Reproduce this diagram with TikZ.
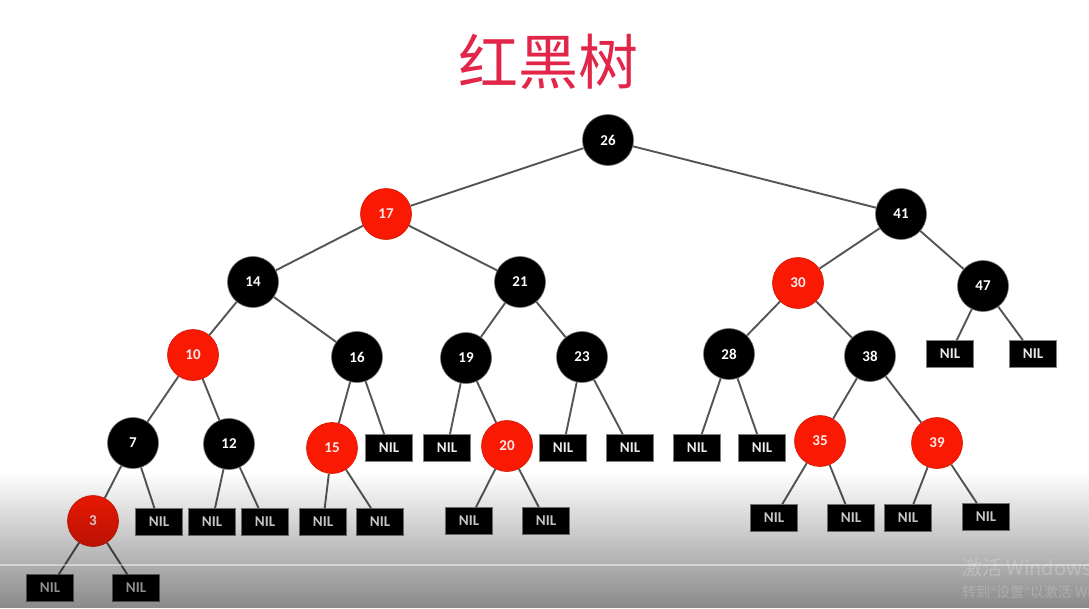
\documentclass[tikz,border=0pt]{standalone}
\usepackage{fontspec}
\setmainfont{Carlito}
\newfontfamily\cjk{Noto Sans CJK SC}
\definecolor{rbred}{RGB}{250,26,4}
\definecolor{titlered}{RGB}{226,38,74}
\definecolor{edgegray}{RGB}{85,85,85}
\begin{document}
\begin{tikzpicture}[x=1pt,y=-1pt,
  bn/.style={circle, fill=black, draw=black!55, line width=0.6pt, minimum size=51pt, inner sep=0pt, text=white, font=\bfseries\fontsize{15}{15}\selectfont},
  rn/.style={bn, fill=rbred, draw=rbred!85!black, text=white!92!red},
  nil/.style={rectangle, fill=black, draw=black!50, line width=0.6pt, minimum width=47pt, minimum height=27pt, inner sep=0pt, text=white!92!black, font=\bfseries\fontsize{15}{15}\selectfont},
  tedge/.style={draw=edgegray, line width=1.9pt},
  wmark/.style={anchor=west, inner sep=0pt, text=white, text opacity=0.22}]
\useasboundingbox (0,0) rectangle (1089,608);
\fill[white] (0,0) rectangle (1089,608);

\node[text=titlered, font=\cjk\fontsize{60}{60}\selectfont] (title) at (548,62) {红黑树};

% nodes
\node[bn] (n26) at (608,140) {26};
\node[rn] (n17) at (386,214) {17};
\node[bn] (n41) at (901,214) {41};
\node[bn] (n14) at (253,282) {14};
\node[bn] (n21) at (520,282) {21};
\node[rn] (n30) at (798,283) {30};
\node[bn] (n47) at (983,286) {47};
\node[rn] (n10) at (193,355) {10};
\node[bn] (n16) at (357,357) {16};
\node[bn] (n19) at (466,358) {19};
\node[bn] (n23) at (582,357) {23};
\node[bn] (n28) at (729,354) {28};
\node[bn] (n38) at (870,356) {38};
\node[nil] (l47a) at (950,354) {NIL};
\node[nil] (l47b) at (1033,354) {NIL};
\node[bn] (n7) at (133,443) {7};
\node[bn] (n12) at (229,444) {12};
\node[rn] (n15) at (332,448) {15};
\node[nil] (l16b) at (389,448) {NIL};
\node[nil] (l19a) at (447,448) {NIL};
\node[rn] (n20) at (507,446) {20};
\node[nil] (l23a) at (563,448) {NIL};
\node[nil] (l23b) at (630,448) {NIL};
\node[nil] (l28a) at (697,448) {NIL};
\node[nil] (l28b) at (762,448) {NIL};
\node[rn] (n35) at (820,441) {35};
\node[rn] (n39) at (937,443) {39};
\node[rn] (n3) at (93,521) {3};
\node[nil] (l7b) at (159,522) {NIL};
\node[nil] (l12a) at (212,522) {NIL};
\node[nil] (l12b) at (265,522) {NIL};
\node[nil] (l15a) at (323,522) {NIL};
\node[nil] (l15b) at (380,522) {NIL};
\node[nil] (l20a) at (469,521) {NIL};
\node[nil] (l20b) at (546,521) {NIL};
\node[nil] (l35a) at (774,518) {NIL};
\node[nil] (l35b) at (851,518) {NIL};
\node[nil] (l39a) at (908,518) {NIL};
\node[nil] (l39b) at (986,517) {NIL};
\node[nil] (l3a) at (50,588) {NIL};
\node[nil] (l3b) at (136,588) {NIL};

% edges
\foreach \a/\b in {n26/n17,n26/n41,n17/n14,n17/n21,n41/n30,n41/n47,
  n14/n10,n14/n16,n21/n19,n21/n23,n30/n28,n30/n38,n47/l47a,n47/l47b,
  n10/n7,n10/n12,n16/n15,n16/l16b,n19/l19a,n19/n20,n23/l23a,n23/l23b,
  n28/l28a,n28/l28b,n38/n35,n38/n39,n7/n3,n7/l7b,n12/l12a,n12/l12b,
  n15/l15a,n15/l15b,n20/l20a,n20/l20b,n35/l35a,n35/l35b,n39/l39a,n39/l39b,
  n3/l3a,n3/l3b}
  \path[tedge] (\a) -- (\b);

% bottom gray overlay
\foreach \i in {0,...,44}
  \fill[black, fill opacity={0.46*(\i+0.5)/45}] (0,{473+\i*3}) rectangle (1089,{476+\i*3});
\draw[white, opacity=0.45, line width=1.5pt] (0,565) -- (1089,565);

% watermark
\begin{scope}
\clip (0,0) rectangle (1089,608);
\node[wmark, font=\cjk\fontsize{20}{20}\selectfont] (wm1) at (962,568) {激活 Windows};
\node[wmark, font=\cjk\fontsize{14}{14}\selectfont] (wm2) at (962,592) {转到{\rmfamily“}设置{\rmfamily”}以激活 Windows。};
\end{scope}
\end{tikzpicture}
\end{document}
